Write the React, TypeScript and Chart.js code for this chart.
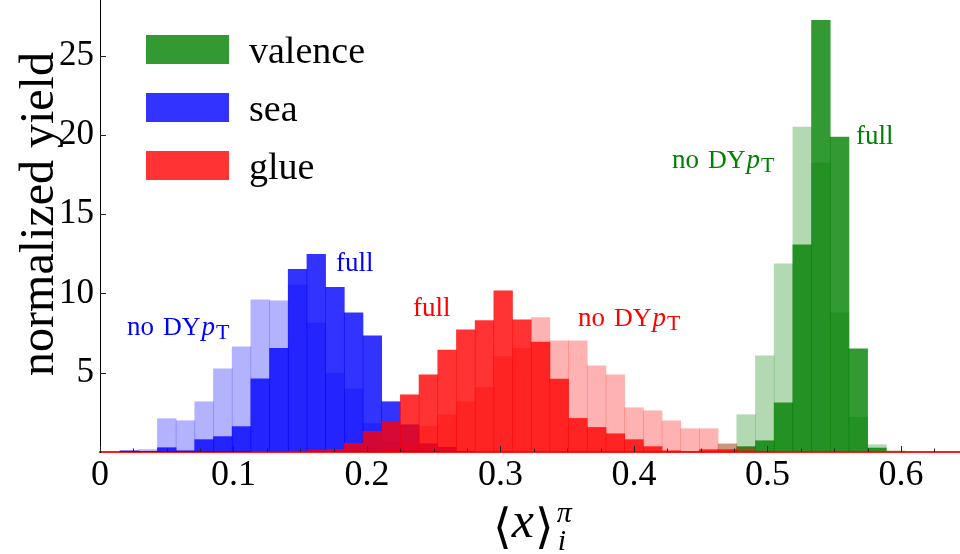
import React, { useEffect, useRef } from 'react';
import { Chart, registerables } from 'chart.js';

Chart.register(...registerables);

// histogram bin centres (bin width 0.014)
const binCenters = [
  0.008, 0.022, 0.036, 0.05, 0.064, 0.078, 0.092, 0.106, 0.12, 0.134,
  0.148, 0.162, 0.176, 0.19, 0.204, 0.218, 0.232, 0.246, 0.26, 0.274,
  0.288, 0.302, 0.316, 0.33, 0.344, 0.358, 0.372, 0.386, 0.4, 0.414,
  0.428, 0.442, 0.456, 0.47, 0.484, 0.498, 0.512, 0.526, 0.54, 0.554,
  0.568, 0.582, 0.596, 0.61, 0.624,
];

const valenceFull = [
  0, 0, 0, 0, 0, 0, 0, 0, 0, 0,
  0, 0, 0, 0, 0, 0, 0, 0, 0, 0,
  0, 0, 0, 0, 0, 0, 0, 0, 0, 0,
  0, 0, 0, 0, 0.34, 0.71, 3.1, 13.06, 27.22, 19.86,
  6.51, 0.25, 0, 0, 0,
];
const valenceNoDY = [
  0, 0, 0, 0, 0, 0, 0, 0, 0, 0,
  0, 0, 0, 0, 0, 0, 0, 0, 0, 0,
  0, 0, 0, 0, 0, 0, 0, 0, 0, 0,
  0, 0, 0, 0.52, 2.35, 6.07, 11.86, 20.49, 18.22, 8.77,
  2.18, 0.46, 0.08, 0, 0,
];
const seaFull = [
  0, 0.08, 0.03, 0.27, 0.08, 0.78, 0.97, 1.6, 4.62, 6.53,
  11.52, 12.47, 10.39, 8.77, 7.33, 3.17, 1.72, 0.52, 0.3, 0.05,
  0, 0, 0, 0, 0, 0, 0, 0, 0, 0,
  0, 0, 0, 0, 0, 0, 0, 0, 0, 0,
  0, 0, 0, 0, 0,
];
const seaNoDY = [
  0, 0.03, 0.15, 2.1, 1.97, 3.17, 5.25, 6.63, 9.59, 9.53,
  10.54, 8.14, 4.97, 3.99, 1.8, 0.67, 0.3, 0.08, 0, 0,
  0, 0, 0, 0, 0, 0, 0, 0, 0, 0,
  0, 0, 0, 0, 0, 0, 0, 0, 0, 0,
  0, 0, 0, 0, 0,
];
const glueFull = [
  0, 0, 0, 0, 0, 0, 0, 0, 0.02, 0.03,
  0.05, 0.1, 0.15, 0.55, 1.3, 1.91, 3.61, 4.87, 6.42, 7.7,
  8.29, 10.16, 8.33, 6.93, 4.6, 2.12, 1.55, 1.15, 0.78, 0.34,
  0.08, 0.03, 0.15, 0.15, 0.05, 0.03, 0, 0, 0, 0,
  0, 0, 0, 0, 0,
];
const glueNoDY = [
  0, 0, 0, 0, 0, 0, 0, 0, 0, 0,
  0, 0, 0, 0, 0.05, 0.2, 0.5, 1.62, 2.35, 3.17,
  4.07, 6.02, 6.55, 8.48, 7.01, 7.01, 5.44, 4.87, 2.79, 2.6,
  1.97, 1.47, 1.47, 0.5, 0.3, 0.05, 0, 0, 0, 0,
  0, 0, 0, 0, 0,
];

const legendLabels = ['valence', 'sea', 'glue'];
const legendColors = ['rgba(0,128,0,0.8)', 'rgba(0,0,255,0.8)', 'rgba(255,0,0,0.8)'];

// text annotations, anchored in data coordinates (left edge, baseline)
const annotationKinds = ['noDY', 'full', 'full', 'noDY', 'noDY', 'full'];
const annotationColors = ['blue', 'blue', 'red', 'red', 'green', 'green'];
const annotationX = [0.0202, 0.1768, 0.2345, 0.358, 0.4285, 0.5663];
const annotationY = [7.39, 11.42, 8.59, 7.96, 17.9, 19.42];

const SERIF = '"Liberation Serif", "DejaVu Serif", serif';

function toPoints(values: number[]) {
  return binCenters
    .map((x, i) => ({ x, y: values[i] }))
    .filter((p) => p.y > 0);
}

function drawNoDY(ctx: CanvasRenderingContext2D, x: number, y: number, size: number) {
  ctx.font = `${size}px ${SERIF}`;
  ctx.fillText('no', x, y);
  let w = ctx.measureText('no').width + 9;
  ctx.font = `${size - 1}px ${SERIF}`;
  ctx.fillText('DY', x + w, y);
  w += ctx.measureText('DY').width + 1;
  ctx.font = `italic ${size}px ${SERIF}`;
  ctx.fillText('p', x + w, y);
  w += ctx.measureText('p').width + 1;
  ctx.font = `${Math.round(size * 0.8)}px ${SERIF}`;
  ctx.fillText('T', x + w, y + size * 0.14);
}

const decorPlugin = {
  id: 'decor',
  afterDatasetsDraw(chart: any) {
    const ctx: CanvasRenderingContext2D = chart.ctx;
    const xs = chart.scales.x;
    const ys = chart.scales.y;
    const area = chart.chartArea;
    ctx.save();
    // inward tick marks
    ctx.strokeStyle = '#222';
    ctx.lineWidth = 1;
    for (let i = 0; i <= 25; i++) {
      const v = i * 0.025;
      const px = Math.round(xs.getPixelForValue(v)) + 0.5;
      const len = i % 4 === 0 ? 6 : 3.5;
      ctx.beginPath();
      ctx.moveTo(px, area.bottom);
      ctx.lineTo(px, area.bottom - len);
      ctx.stroke();
    }
    for (let v = 5; v <= 25; v += 5) {
      const py = Math.round(ys.getPixelForValue(v)) + 0.5;
      ctx.beginPath();
      ctx.moveTo(area.left, py);
      ctx.lineTo(area.left + 6, py);
      ctx.stroke();
    }
    ctx.restore();
  },
  afterDraw(chart: any) {
    const ctx: CanvasRenderingContext2D = chart.ctx;
    const xs = chart.scales.x;
    const ys = chart.scales.y;
    const area = chart.chartArea;
    ctx.save();
    ctx.textBaseline = 'alphabetic';
    ctx.textAlign = 'left';

    // annotations
    annotationKinds.forEach((kind, i) => {
      const px = xs.getPixelForValue(annotationX[i]);
      const py = ys.getPixelForValue(annotationY[i]);
      ctx.fillStyle = annotationColors[i];
      if (kind === 'noDY') {
        drawNoDY(ctx, px, py, 27);
      } else {
        ctx.font = `27px ${SERIF}`;
        ctx.fillText('full', px, py);
      }
    });

    // legend
    legendLabels.forEach((label, i) => {
      const top = area.top + 35 + i * 58;
      ctx.fillStyle = legendColors[i];
      ctx.fillRect(area.left + 46, top, 83, 29);
      ctx.fillStyle = '#000';
      ctx.font = `38px ${SERIF}`;
      ctx.fillText(label, area.left + 149, top + 28);
    });

    // y-axis title
    ctx.save();
    ctx.translate(53, (area.top + area.bottom) / 2 - 12);
    ctx.rotate(-Math.PI / 2);
    ctx.textAlign = 'center';
    ctx.fillStyle = '#000';
    ctx.font = `48px ${SERIF}`;
    ctx.fillText('normalized yield', 0, 0);
    ctx.restore();

    // x-axis title  <x>^pi_i
    ctx.fillStyle = '#000';
    const base = 537;
    let x = 493;
    const BR = '"DejaVu Serif", "DejaVu Sans", serif';
    ctx.font = `48px ${BR}`;
    ctx.fillText('\u27E8', x, base + 6);
    x += ctx.measureText('\u27E8').width;
    ctx.font = `italic 50px ${SERIF}`;
    ctx.fillText('x', x, base);
    x += ctx.measureText('x').width + 1;
    ctx.font = `48px ${BR}`;
    ctx.fillText('\u27E9', x, base + 6);
    x += ctx.measureText('\u27E9').width + 3;
    ctx.font = `italic 30px ${SERIF}`;
    ctx.fillText('\u03C0', x, base - 15);
    ctx.fillText('i', x + 1, base + 13);
    ctx.restore();
  },
};

export default function App() {
  const ref = useRef<HTMLCanvasElement | null>(null);
  useEffect(() => {
    document.body.style.margin = '0';
    const canvas = ref.current!;
    const mk = (label: string, values: number[], color: string) => ({
      label,
      data: toPoints(values),
      backgroundColor: color,
      borderWidth: 0,
      grouped: false,
      barPercentage: 1,
      categoryPercentage: 1,
    });
    const chart = new Chart(canvas, {
      type: 'bar',
      data: {
        datasets: [
          mk('glue full', glueFull, 'rgba(255,0,0,0.8)'),
          mk('glue no DY pT', glueNoDY, 'rgba(255,0,0,0.3)'),
          mk('sea full', seaFull, 'rgba(0,0,255,0.8)'),
          mk('sea no DY pT', seaNoDY, 'rgba(0,0,255,0.3)'),
          mk('valence full', valenceFull, 'rgba(0,128,0,0.8)'),
          mk('valence no DY pT', valenceNoDY, 'rgba(0,128,0,0.3)'),
        ] as any,
      },
      options: {
        animation: false,
        responsive: false,
        maintainAspectRatio: false,
        layout: { padding: 0 },
        plugins: { legend: { display: false }, tooltip: { enabled: false } },
        scales: {
          x: {
            type: 'linear',
            min: 0,
            max: 0.6442,
            offset: false,
            grid: { display: true, drawOnChartArea: false, drawTicks: false },
            border: { display: true, color: '#ff1a1a', width: 2 },
            ticks: {
              stepSize: 0.1,
              includeBounds: false,
              autoSkip: false,
              maxRotation: 0,
              padding: 2,
              color: '#000',
              font: { family: SERIF, size: 36 },
              callback: (v: any) => (Math.abs(v) < 1e-9 ? '0' : Number(v).toFixed(1)),
            },
            afterFit: (s: any) => {
              s.height = 102;
              s.paddingLeft = 0;
              s.paddingRight = 0;
            },
          },
          y: {
            min: 0,
            max: 28.5,
            grid: { display: true, drawOnChartArea: false, drawTicks: false },
            border: { display: true, color: '#000', width: 1 },
            ticks: {
              stepSize: 5,
              includeBounds: false,
              padding: 6,
              color: '#000',
              font: { family: SERIF, size: 35 },
              callback: (v: any) => (Math.abs(v) < 1e-9 ? '' : String(v)),
            },
            afterFit: (s: any) => {
              s.width = 100;
              s.paddingTop = 0;
              s.paddingBottom = 0;
            },
          },
        },
      } as any,
      plugins: [decorPlugin],
    });
    return () => chart.destroy();
  }, []);
  return (
    <canvas ref={ref} width={960} height={554} style={{ display: 'block' }} />
  );
}
